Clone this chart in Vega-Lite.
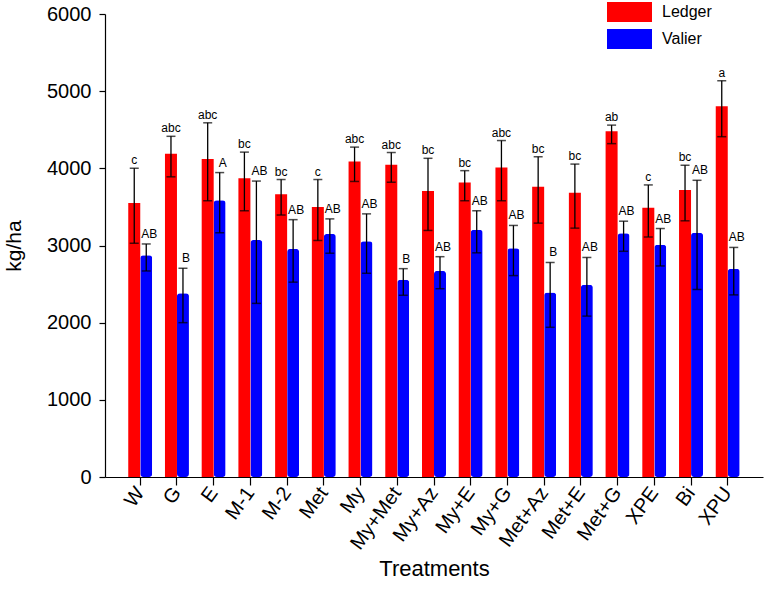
{
  "$schema": "https://vega.github.io/schema/vega-lite/v6.json",
  "autosize": "none",
  "width": 658,
  "height": 463,
  "padding": {"left": 105, "top": 14, "right": 4, "bottom": 125},
  "background": "white",
  "config": {
    "view": {"stroke": null},
    "font": "Liberation Sans",
    "axis": {"domainColor": "black", "tickColor": "black", "labelColor": "black", "titleColor": "black", "grid": false, "domainWidth": 1.2, "tickWidth": 1.2, "labelFont": "Liberation Sans", "titleFont": "Liberation Sans", "titleFontWeight": "normal"}
  },
  "data": {
    "values": [
      {"t": "W", "s": "Ledger", "m": 3550, "lo": 3030, "hi": 4000, "lab": "c"},
      {"t": "G", "s": "Ledger", "m": 4190, "lo": 3890, "hi": 4415, "lab": "abc"},
      {"t": "E", "s": "Ledger", "m": 4120, "lo": 3580, "hi": 4590, "lab": "abc"},
      {"t": "M-1", "s": "Ledger", "m": 3870, "lo": 3450, "hi": 4210, "lab": "bc"},
      {"t": "M-2", "s": "Ledger", "m": 3665, "lo": 3395, "hi": 3855, "lab": "bc"},
      {"t": "Met", "s": "Ledger", "m": 3500, "lo": 3065, "hi": 3855, "lab": "c"},
      {"t": "My", "s": "Ledger", "m": 4090, "lo": 3830, "hi": 4275, "lab": "abc"},
      {"t": "My+Met", "s": "Ledger", "m": 4045, "lo": 3820, "hi": 4205, "lab": "abc"},
      {"t": "My+Az", "s": "Ledger", "m": 3705, "lo": 3195, "hi": 4130, "lab": "bc"},
      {"t": "My+E", "s": "Ledger", "m": 3815, "lo": 3580, "hi": 3970, "lab": "bc"},
      {"t": "My+G", "s": "Ledger", "m": 4010, "lo": 3580, "hi": 4360, "lab": "abc"},
      {"t": "Met+Az", "s": "Ledger", "m": 3760, "lo": 3290, "hi": 4150, "lab": "bc"},
      {"t": "Met+E", "s": "Ledger", "m": 3685, "lo": 3225, "hi": 4055, "lab": "bc"},
      {"t": "Met+G", "s": "Ledger", "m": 4480, "lo": 4320, "hi": 4560, "lab": "ab"},
      {"t": "XPE", "s": "Ledger", "m": 3490, "lo": 3110, "hi": 3785, "lab": "c"},
      {"t": "Bi", "s": "Ledger", "m": 3720, "lo": 3320, "hi": 4040, "lab": "bc"},
      {"t": "XPU", "s": "Ledger", "m": 4805, "lo": 4410, "hi": 5135, "lab": "a"},
      {"t": "W", "s": "Valier", "m": 2875, "lo": 2670, "hi": 3020, "lab": "AB"},
      {"t": "G", "s": "Valier", "m": 2380, "lo": 2000, "hi": 2705, "lab": "B"},
      {"t": "E", "s": "Valier", "m": 3585, "lo": 3165, "hi": 3945, "lab": "A"},
      {"t": "M-1", "s": "Valier", "m": 3070, "lo": 2250, "hi": 3835, "lab": "AB"},
      {"t": "M-2", "s": "Valier", "m": 2955, "lo": 2525, "hi": 3335, "lab": "AB"},
      {"t": "Met", "s": "Valier", "m": 3150, "lo": 2900, "hi": 3345, "lab": "AB"},
      {"t": "My", "s": "Valier", "m": 3055, "lo": 2640, "hi": 3410, "lab": "AB"},
      {"t": "My+Met", "s": "Valier", "m": 2555, "lo": 2355, "hi": 2700, "lab": "B"},
      {"t": "My+Az", "s": "Valier", "m": 2670, "lo": 2440, "hi": 2855, "lab": "AB"},
      {"t": "My+E", "s": "Valier", "m": 3205, "lo": 2905, "hi": 3450, "lab": "AB"},
      {"t": "My+G", "s": "Valier", "m": 2965, "lo": 2610, "hi": 3260, "lab": "AB"},
      {"t": "Met+Az", "s": "Valier", "m": 2390, "lo": 1940, "hi": 2780, "lab": "B"},
      {"t": "Met+E", "s": "Valier", "m": 2490, "lo": 2085, "hi": 2845, "lab": "AB"},
      {"t": "Met+G", "s": "Valier", "m": 3160, "lo": 2925, "hi": 3315, "lab": "AB"},
      {"t": "XPE", "s": "Valier", "m": 3010, "lo": 2735, "hi": 3220, "lab": "AB"},
      {"t": "Bi", "s": "Valier", "m": 3165, "lo": 2430, "hi": 3845, "lab": "AB"},
      {"t": "XPU", "s": "Valier", "m": 2700, "lo": 2360, "hi": 2975, "lab": "AB"}
    ]
  },
  "encoding": {
    "x": {
      "field": "t", "type": "nominal", "sort": null,
      "scale": {"paddingInner": 0, "paddingOuter": 0.46},
      "axis": {"title": "Treatments", "titleFontSize": 22, "titlePadding": 6, "labelAngle": -54, "labelFontSize": 20, "labelPadding": 4, "tickSize": 8, "labelAlign": "right", "labelBaseline": "middle"}
    },
    "xOffset": {"field": "s", "type": "nominal", "scale": {"domain": ["Ledger", "Valier"], "paddingInner": 0, "paddingOuter": 0.53}}
  },
  "layer": [
    {
      "transform": [{"filter": "datum.s === 'Ledger'"}],
      "mark": {"type": "bar"},
      "encoding": {
        "y": {"field": "m", "type": "quantitative", "scale": {"domain": [0, 6000], "nice": false},
          "axis": {"title": "kg/ha", "titleFontSize": 21, "titlePadding": 22, "format": "d", "values": [0, 1000, 2000, 3000, 4000, 5000, 6000], "labelFontSize": 20, "labelPadding": 8, "tickSize": 6}},
        "color": {"field": "s", "type": "nominal", "scale": {"domain": ["Ledger", "Valier"], "range": ["#ff0000", "#0000ff"]},
          "legend": {"title": null, "orient": "none", "legendX": 502, "legendY": -12, "padding": 0, "symbolType": "M-1,-0.44H1V0.44H-1Z", "symbolSize": 2025, "symbolStrokeWidth": 0, "clipHeight": 20, "labelFontSize": 16, "labelOffset": 10, "rowPadding": 7, "labelFont": "Liberation Sans", "labelColor": "black"}}
      }
    },
    {
      "transform": [{"filter": "datum.s === 'Valier'"}],
      "mark": {"type": "bar", "cornerRadius": 3},
      "encoding": {
        "y": {"field": "m", "type": "quantitative"},
        "color": {"field": "s", "type": "nominal"}
      }
    },
    {
      "mark": {"type": "rule", "color": "black", "strokeWidth": 1.3},
      "encoding": {
        "y": {"field": "lo", "type": "quantitative"},
        "y2": {"field": "hi"}
      }
    },
    {
      "mark": {"type": "tick", "color": "black", "size": 9, "thickness": 1.5, "orient": "horizontal"},
      "encoding": {"y": {"field": "hi", "type": "quantitative"}}
    },
    {
      "mark": {"type": "tick", "color": "black", "size": 9, "thickness": 1.5, "orient": "horizontal"},
      "encoding": {"y": {"field": "lo", "type": "quantitative"}}
    },
    {
      "transform": [{"filter": "datum.s === 'Ledger'"}],
      "mark": {"type": "text", "fontSize": 12, "baseline": "alphabetic", "dy": -4, "color": "black", "font": "Liberation Sans"},
      "encoding": {"y": {"field": "hi", "type": "quantitative"}, "text": {"field": "lab"}}
    },
    {
      "transform": [{"filter": "datum.s === 'Valier'"}],
      "mark": {"type": "text", "fontSize": 12, "baseline": "alphabetic", "dy": -6, "dx": 3, "color": "black", "font": "Liberation Sans"},
      "encoding": {"y": {"field": "hi", "type": "quantitative"}, "text": {"field": "lab"}}
    }
  ]
}
